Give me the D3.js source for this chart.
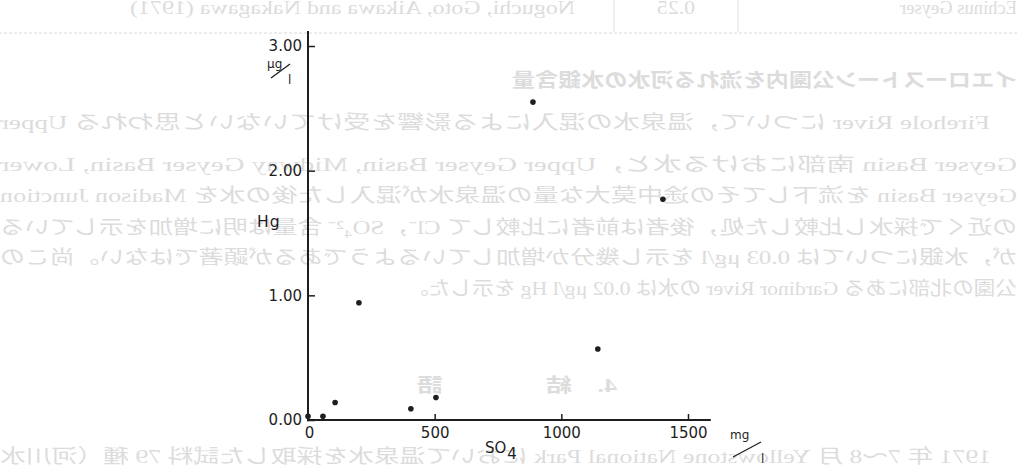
<!DOCTYPE html>
<html>
<head>
<meta charset="utf-8">
<script src="https://cdn.jsdelivr.net/npm/d3@7"></script>
<style>
  body { margin: 0; background: #fff; }
  svg { display: block; }
</style>
</head>
<body>
<div id="chart"></div>
<script>
// SO4 (mg/l) against Hg (ug/l)
const so4 = [0, 59, 107, 406, 505, 1144, 201, 888, 1401];
const hg = [0.03, 0.03, 0.14, 0.09, 0.18, 0.57, 0.94, 2.55, 1.77];

const xTicks = [0, 500, 1000, 1500];
const yTicks = [0, 1, 2, 3];

// page text showing through from the back of the sheet (mirrored)
const tableRow = ["Echinus Geyser", "0.25", "Noguchi, Goto, Aikawa and Nakagawa (1971)"];
const backText = [
  "イエローストーン公園内を流れる河水の水銀含量",
  "　Firehole River について，温泉水の混入による影響を受けていないと思われる Upper",
  "Geyser Basin 南部における水と，Upper Geyser Basin, Midway Geyser Basin, Lower",
  "Geyser Basin を流下してその途中莫大な量の温泉水が混入した後の水を Madison Junction",
  "の近くで採水し比較した処，後者は前者に比較して Cl⁻，SO₄²⁻ 含量は明に増加を示している",
  "が，水銀については 0.03 μg/l を示し幾分か増加しているようであるが顕著ではない。尚この",
  "公園の北部にある Gardinor River の水は 0.02 μg/l Hg を示した。",
  "4.　結　　　　語",
  "　1971 年 7～8 月 Yellowstone National Park において温泉水を採取した試料 79 種（河川水"
];

const W = 1017, H = 467;

const svg = d3.select("#chart")
  .append("svg")
  .attr("width", W)
  .attr("height", H);

svg.append("rect")
  .attr("width", W)
  .attr("height", H)
  .attr("fill", "#fff");

// faint show-through layer
const back = svg.append("g")
  .attr("transform", `translate(${W},0) scale(-1,1)`)
  .attr("fill", "#dcdcdc")
  .style("font-family", "'Liberation Serif', 'Noto Sans CJK JP', serif")
  .style("font-size", "19px");

const rowX = [0, 322, 442];
const rowLen = [117, 38, 445];
back.selectAll(".row")
  .data(tableRow)
  .enter()
  .append("text")
  .attr("class", "row")
  .attr("x", (d, i) => rowX[i])
  .attr("y", 14)
  .attr("textLength", (d, i) => rowLen[i])
  .attr("lengthAdjust", "spacingAndGlyphs")
  .text(d => d);

const lineY = [87, 129, 171, 202, 234, 264, 295, 392, 463];
const lineX = [0, 0, 0, 0, 0, 0, 0, 400, 0];
const lineLen = [505, 1017, 1017, 1017, 1017, 1017, 610, 200, 1017];

back.selectAll(".para")
  .data(backText)
  .enter()
  .append("text")
  .attr("class", "para")
  .attr("x", (d, i) => lineX[i])
  .attr("y", (d, i) => lineY[i])
  .attr("textLength", (d, i) => lineLen[i])
  .attr("lengthAdjust", "spacingAndGlyphs")
  .style("font-weight", (d, i) => i == 0 || i == 7 ? "bold" : "normal")
  .text(d => d);

// table rule under the top line
back.append("line")
  .attr("x1", 0).attr("x2", W)
  .attr("y1", 33).attr("y2", 33)
  .attr("stroke", "#d8d8d8")
  .attr("stroke-dasharray", "3,2");
[279, 403].forEach(v => {
  back.append("line")
    .attr("x1", v).attr("x2", v)
    .attr("y1", 0).attr("y2", 32)
    .attr("stroke", "#e0e0e0");
});

// scales
const x = d3.scaleLinear().domain([0, 1500]).range([308, 688]);
const y = d3.scaleLinear().domain([0, 3]).range([420, 46]);

const ink = "#1e1e1e";
const tickFont = "'DejaVu Sans', sans-serif";

// axis lines
svg.append("line")
  .attr("x1", x(0)).attr("x2", x(0))
  .attr("y1", y(-0.01)).attr("y2", y(3.12))
  .attr("stroke", ink)
  .attr("stroke-width", 2);

svg.append("line")
  .attr("x1", x(0)).attr("x2", x(1590))
  .attr("y1", y(0)).attr("y2", y(0))
  .attr("stroke", ink)
  .attr("stroke-width", 2);

const yAxis = svg.append("g")
  .attr("transform", `translate(${x(0)},0)`)
  .call(d3.axisLeft(y)
    .tickValues(yTicks)
    .tickFormat(d3.format(".2f"))
    .tickSizeInner(-7)
    .tickSizeOuter(0)
    .tickPadding(6));

const xAxis = svg.append("g")
  .attr("transform", `translate(0,${y(0)})`)
  .call(d3.axisBottom(x)
    .tickValues(xTicks)
    .tickFormat(d3.format("d"))
    .tickSizeInner(-6)
    .tickSizeOuter(0)
    .tickPadding(7));

[yAxis, xAxis].forEach(g => {
  g.select(".domain").remove();
  g.selectAll("line").attr("stroke", ink).attr("stroke-width", 1.5);
  g.selectAll("text")
    .attr("fill", ink)
    .style("font-family", tickFont)
    .style("font-size", "15px");
});
xAxis.select(".tick text").attr("dx", 1);

// axis names
svg.append("text")
  .attr("x", 257)
  .attr("y", 227)
  .attr("fill", ink)
  .style("font-family", tickFont)
  .style("font-size", "15.5px")
  .style("letter-spacing", "1px")
  .text("Hg");

const so = svg.append("text")
  .attr("x", 485)
  .attr("y", 453)
  .attr("fill", ink)
  .style("font-family", tickFont)
  .style("font-size", "15px")
  .text("SO");
so.append("tspan")
  .attr("dy", 6)
  .attr("dx", 1)
  .text("4");

// units
const unit = svg.append("g")
  .attr("fill", ink)
  .style("font-family", tickFont);
unit.append("text").attr("x", 267).attr("y", 68).style("font-size", "12px").text("μg");
unit.append("line")
  .attr("x1", 271).attr("y1", 78).attr("x2", 290).attr("y2", 64)
  .attr("stroke", ink).attr("stroke-width", 1.3);
unit.append("text").attr("x", 288).attr("y", 84).style("font-size", "12px").text("l");

unit.append("text").attr("x", 730).attr("y", 439).style("font-size", "12px").text("mg");
unit.append("line")
  .attr("x1", 733).attr("y1", 457).attr("x2", 761).attr("y2", 442)
  .attr("stroke", ink).attr("stroke-width", 1.3);
unit.append("text").attr("x", 761).attr("y", 463).style("font-size", "12px").text("l");

// points
const pts = so4.map((v, i) => ({ so4: v, hg: hg[i] }));

svg.selectAll(".pt")
  .data(pts)
  .enter()
  .append("circle")
  .attr("class", "pt")
  .attr("cx", d => x(d.so4))
  .attr("cy", d => y(d.hg))
  .attr("r", 2.8)
  .attr("fill", ink);
</script>
</body>
</html>
